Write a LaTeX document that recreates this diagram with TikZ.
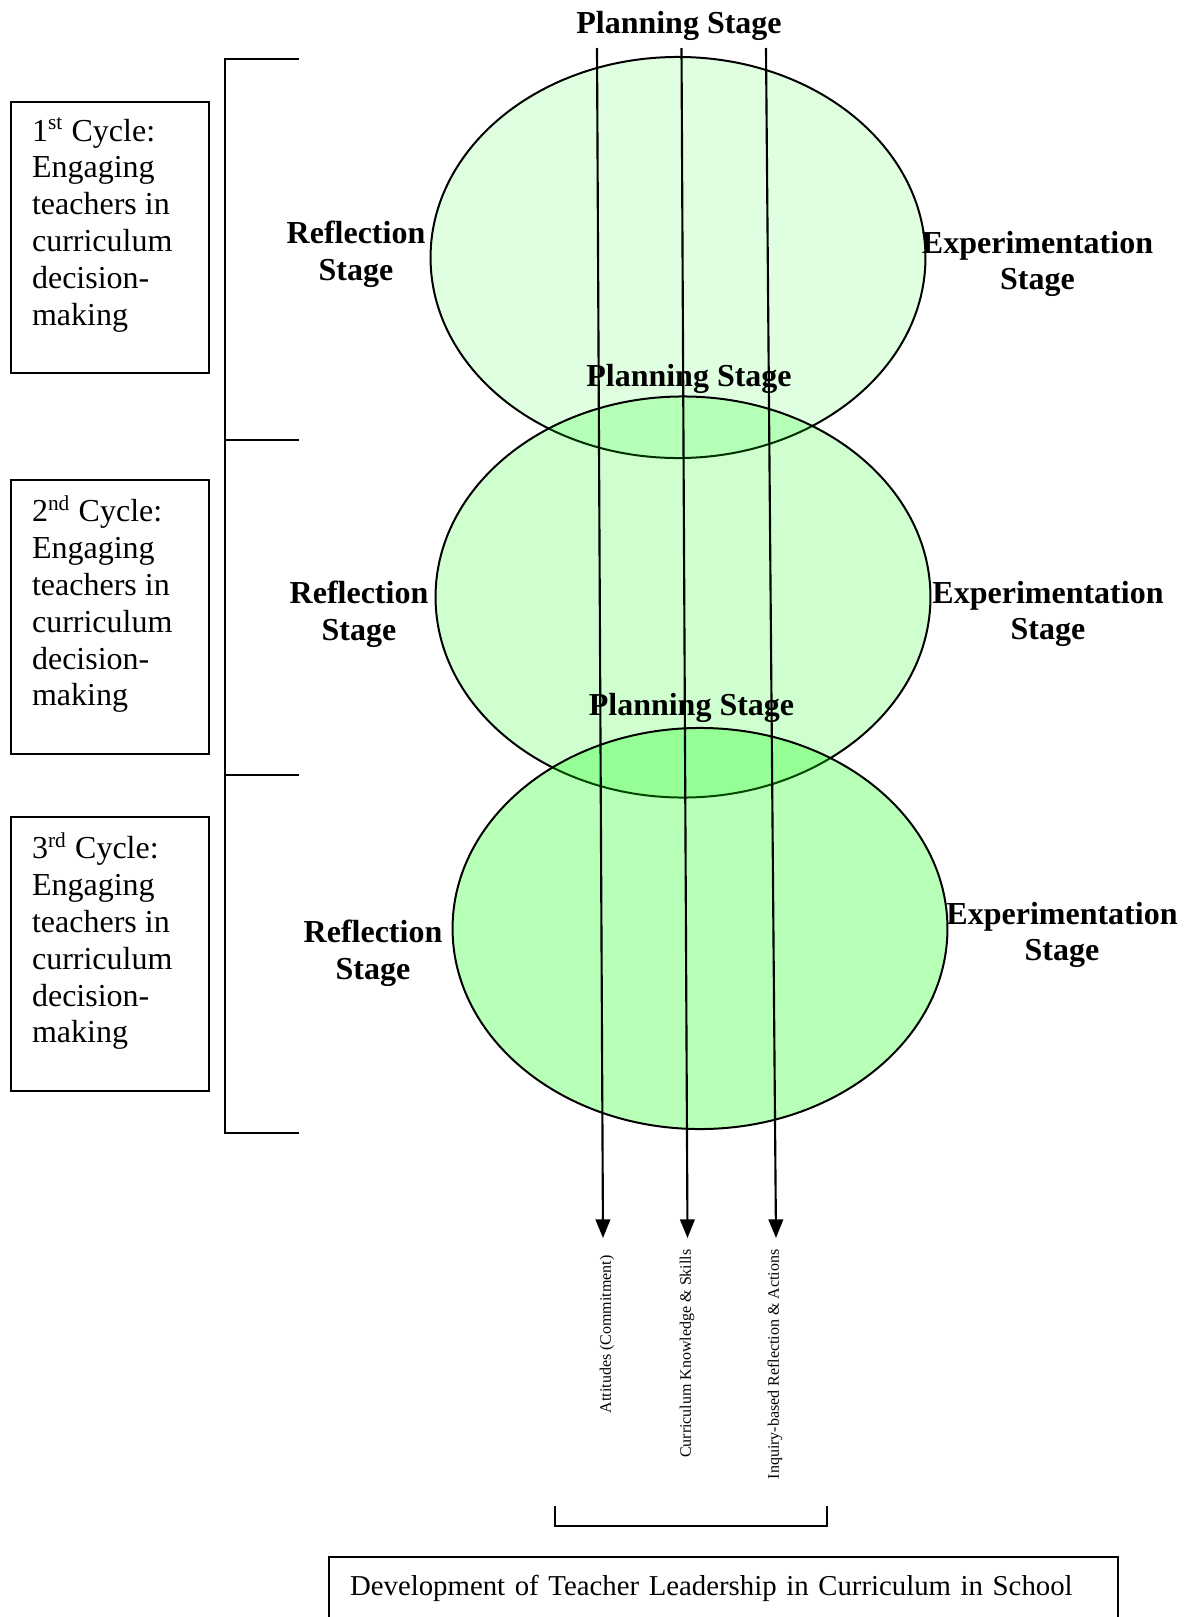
\documentclass[tikz,border=0pt]{standalone}
\usepackage{fontspec}
\setmainfont{Liberation Serif}
\usetikzlibrary{shapes.geometric, arrows.meta, positioning}
\tikzstyle{arrow} = [line width=0.8pt,-{Triangle[length=7pt,width=5.5pt]}]
\tikzstyle{stage} = [
ellipse, draw=black, line width=0.75pt, fill=green,
minimum width=185.6pt, minimum height=150.4pt, inner sep=0pt
]
\tikzstyle{stagelabel} = [
font=\fontsize{12}{13.8}\selectfont\bfseries, align=center, inner sep=0pt
]
\tikzstyle{cyclebox} = [
rectangle, draw=black, line width=0.75pt, anchor=north west,
inner xsep=7.9pt, inner ysep=5.8pt, font=\fontsize{12}{13.8}\selectfont
]
\tikzstyle{outcome} = [
font=\fontsize{6}{7}\selectfont, rotate=90, anchor=east, inner sep=0pt
]
\tikzstyle{bracket} = [line width=0.75pt]

\begin{document}
\begin{tikzpicture}[x=0.375pt, y=-0.375pt]
			\useasboundingbox (0,0) rectangle (1187,1617);

			% Three cycles
			\node (E1) [stage, fill opacity=0.12] at (678,257.5) {};
			\node (E2) [stage, fill opacity=0.19] at (683,597) {};
			\node (E3) [stage, fill opacity=0.28] at (700,928.5) {};

			% Lines through the cycles
			\coordinate (A_top) at (597,48);
			\coordinate (A_end) at (603,1238);
			\coordinate (C_top) at (681.5,48);
			\coordinate (C_end) at (687.5,1238);
			\coordinate (I_top) at (766,48);
			\coordinate (I_end) at (776,1238);
			\draw [arrow] (A_top) -- (A_end);
			\draw [arrow] (C_top) -- (C_end);
			\draw [arrow] (I_top) -- (I_end);

			% Stage labels
			\node (P1) [stagelabel] at (679,26) {Planning Stage};
			\node (P2) [stagelabel] at (689,379) {Planning Stage};
			\node (P3) [stagelabel] at (691.5,708) {Planning Stage};
			\node (R1) [stagelabel] at (356,254) {Reflection\\Stage};
			\node (R2) [stagelabel] at (359,614) {Reflection\\Stage};
			\node (R3) [stagelabel] at (373,953) {Reflection\\Stage};
			\node (X1) [stagelabel] at (1037.5,264) {Experimentation\\Stage};
			\node (X2) [stagelabel] at (1048,614) {Experimentation\\Stage};
			\node (X3) [stagelabel] at (1062,935) {Experimentation\\Stage};

			% Cycle boxes
			\node (Cyc_1) [cyclebox] at (10,101) {\parbox[t][90pt][t]{58.4pt}{1\textsuperscript{st} Cycle:\\Engaging\\teachers in\\curriculum\\decision-\\making}};
			\node (Cyc_2) [cyclebox] at (10,479) {\parbox[t][91pt][t]{58.4pt}{2\textsuperscript{nd} Cycle:\\Engaging\\teachers in\\curriculum\\decision-\\making}};
			\node (Cyc_3) [cyclebox] at (10,816) {\parbox[t][91pt][t]{58.4pt}{3\textsuperscript{rd} Cycle:\\Engaging\\teachers in\\curriculum\\decision-\\making}};

			% Brackets
			\draw [bracket] (299,59) -- (225,59) -- (225,1133) -- (299,1133);
			\draw [line width=1.1pt] (225,440) -- (299,440);
			\draw [line width=1.1pt] (225,775) -- (299,775);
			\draw [bracket] (555,1506) -- (555,1526) -- (827,1526) -- (827,1506);

			% Outcomes
			\node (Att) [outcome] at (607,1255) {Attitudes (Commitment)};
			\node (Know) [outcome] at (687,1249) {Curriculum Knowledge \& Skills};
			\node (Inq) [outcome] at (775,1249) {Inquiry-based Reflection \& Actions};

			\node (Goal) [draw=black, line width=0.75pt, anchor=north west, inner xsep=7.9pt, inner ysep=0pt,
				text width=280pt, align=left, text height=14.6pt, text depth=30pt,
				font=\fontsize{10.8}{13}\selectfont] at (328,1556) {Development of Teacher Leadership in Curriculum in School};

		\end{tikzpicture}
\end{document}
